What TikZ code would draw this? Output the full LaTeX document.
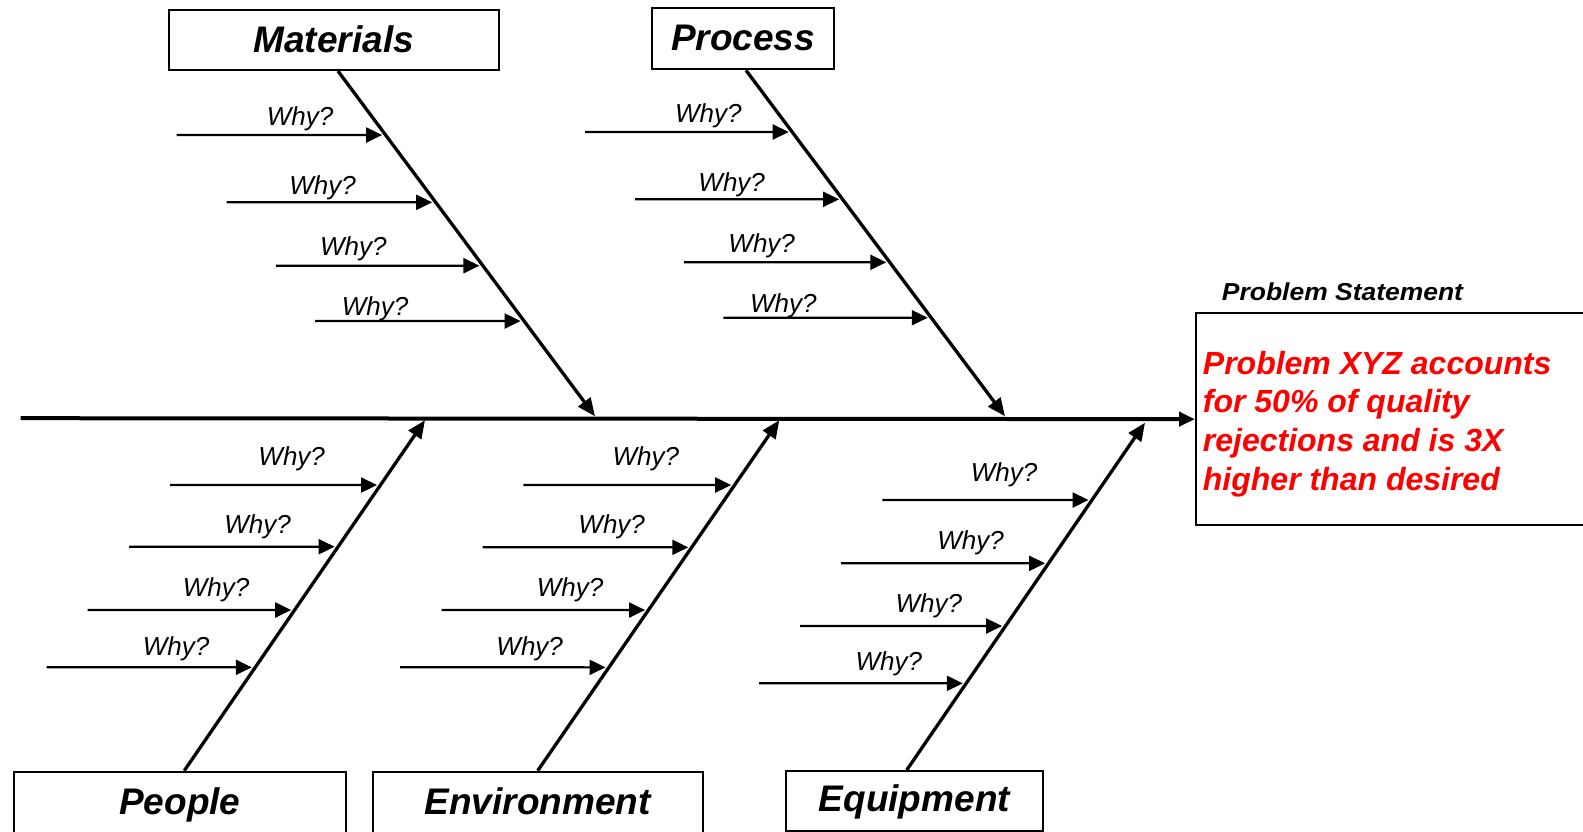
\documentclass[tikz,border=0pt]{standalone}
\usepackage{fontspec}
\usepackage{graphicx}
\setmainfont{Liberation Sans}
\usetikzlibrary{arrows.meta,calc}
\definecolor{probred}{RGB}{255,0,0}

\tikzset{
  catbox/.style={draw, line width=2pt, inner sep=0pt, anchor=north west,
    font=\fontsize{37}{44}\selectfont\bfseries\itshape},
  probbox/.style={draw, line width=2pt, inner sep=0pt, anchor=north west},
  whylabel/.style={anchor=base, inner sep=0pt,
    font=\fontsize{26}{31}\selectfont\itshape},
  bone/.style={line width=3.3pt, -{Triangle[length=18pt,width=15pt]}},
  whyarrow/.style={line width=2.2pt, -{Triangle[length=16pt,width=15pt]}, shorten >=3.5pt},
  spine/.style={line width=4pt, -{Triangle[length=16pt,width=14pt]}},
}

\begin{document}
\begin{tikzpicture}[x=1pt,y=-1pt]
\clip (0,0) rectangle (1583,832);
\fill[white] (0,0) rectangle (1583,832);

% category boxes
\node[catbox, minimum width=330.5pt, text height=42.7pt, text depth=17.3pt] (mat) at (167.5,9) {Materials};
\node[catbox, minimum width=182.6pt, text height=42.7pt, text depth=18.3pt] (proc) at (650.7,7.3) {Process};
\node[catbox, minimum width=332.3pt, text height=42.6pt, text depth=50pt] (peo) at (12.7,770.7) {People};
\node[catbox, minimum width=330pt, text height=42.6pt, text depth=50pt] (env) at (371.7,770.7) {Environment};
\node[catbox, minimum width=256.7pt, text height=40pt, text depth=20pt] (equ) at (785,770) {Equipment};

% problem statement
\node[anchor=base, inner sep=0pt, font=\fontsize{24.5}{29}\selectfont\bfseries\itshape] (stmt) at (1342.5,300) {\scalebox{1.08}[1]{Problem Statement}};
\node[probbox, minimum width=450pt, minimum height=211.7pt] (prob) at (1195,312.3) {};
\node[anchor=north west, inner sep=0pt, align=left, text=probred,
  font=\fontsize{32}{38.6}\selectfont\bfseries\itshape] (probtext) at (1202.7,351)
  {Problem XYZ accounts\\for 50\% of quality\\rejections and is 3X\\higher than desired};

% spine
\coordinate (tail) at (20.7,418.2);
\draw[spine] (tail) -- (prob.west);

% bones
\coordinate (matA) at ([xshift=4.2pt]mat.south);
\coordinate (matB) at (595,416.3);
\coordinate (procA) at ([xshift=3pt]proc.south);
\coordinate (procB) at (1005,416.3);
\coordinate (peoA) at ([xshift=4.4pt]peo.north);
\coordinate (peoB) at (425,420.2);
\coordinate (envA) at (env.north);
\coordinate (envB) at (779.3,420.2);
\coordinate (equA) at ([xshift=-7.6pt]equ.north);
\coordinate (equB) at (1145,422.7);

\foreach \b in {mat,proc,peo,env,equ}
  \draw[bone] (\b A) -- (\b B);

% "Why?" arrows: start x / arrow y / label x / label baseline
\foreach \b/\list in {
  mat/{176.7/135/300/126, 226.7/202.3/322.5/194, 276/265.7/353.3/255, 315/321/375/315},
  proc/{585/132/708.3/122.7, 635/199.3/731.7/191, 684/262.3/761.7/252.3, 723.3/317.7/783.3/312.3},
  peo/{170/485/291.7/465, 129/546.7/257.5/533.3, 87.7/610/216/596.7, 46.7/667.3/176/655},
  env/{523.3/485/645.8/465, 482.7/547.3/611.7/533.3, 441.7/610/570/596.7, 400/667.3/529.7/655},
  equ/{882.3/500/1004/481, 841/563.3/970.5/549, 800/626/928.8/612.7, 759/683.3/888.8/670.7}}
{
  \foreach \x/\y/\lx/\ly [count=\i] in \list {
    \coordinate (\b-w\i) at (\x,\y);
    \coordinate (\b-t\i) at (intersection of \b A--\b B and 0,\y--1,\y);
    \draw[whyarrow] (\b-w\i) -- (\b-t\i);
    \node[whylabel] (\b-l\i) at (\lx,\ly) {Why?};
  }
}
\end{tikzpicture}
\end{document}
